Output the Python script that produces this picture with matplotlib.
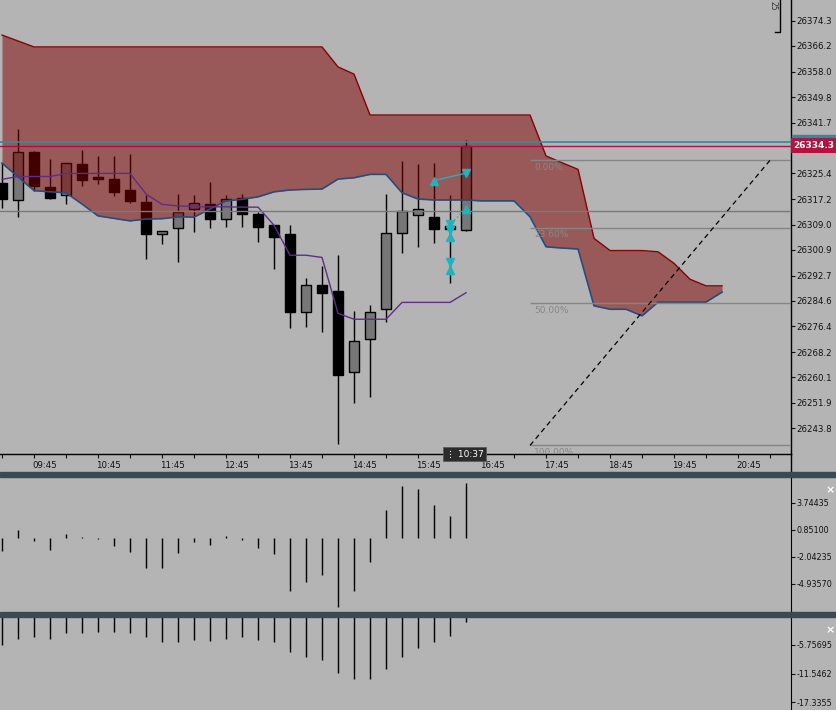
import matplotlib
matplotlib.use('Agg')
import matplotlib.pyplot as plt
from matplotlib.patches import Rectangle
from matplotlib.lines import Line2D
from matplotlib.transforms import blended_transform_factory, ScaledTranslation
import numpy as np

# 15 minute candles, 09:15 .. 16:30
opens = [26322.2, 26316.8, 26332.3, 26321.1, 26318.4, 26328.4, 26324.3, 26323.6, 26320.1, 26316.3,
         26305.9, 26307.8, 26313.9, 26315.6, 26310.9, 26317.4, 26312.4, 26308.8, 26306.0, 26281.1,
         26289.6, 26287.8, 26261.9, 26272.5, 26281.9, 26306.4, 26312.2, 26311.5, 26308.6, 26307.2]
highs = [26328.7, 26339.5, 26332.6, 26329.9, 26328.7, 26332.9, 26331.0, 26331.0, 26331.6, 26318.4,
         26307.0, 26318.8, 26318.4, 26322.7, 26318.4, 26318.8, 26313.1, 26308.9, 26308.8, 26291.9,
         26295.8, 26299.2, 26281.4, 26283.2, 26318.8, 26329.3, 26328.4, 26328.8, 26318.4, 26336.1]
lows = [26314.3, 26311.4, 26319.8, 26317.1, 26315.5, 26321.3, 26321.9, 26318.3, 26316.0, 26297.9,
        26302.7, 26297.1, 26306.6, 26307.8, 26308.2, 26308.2, 26303.4, 26294.7, 26275.8, 26276.1,
        26274.5, 26238.8, 26251.8, 26253.7, 26277.9, 26299.8, 26301.9, 26303.2, 26290.2, 26306.9]
closes = [26317.1, 26332.2, 26321.5, 26317.6, 26328.6, 26323.4, 26323.7, 26319.6, 26316.6, 26306.1,
          26306.9, 26313.1, 26315.9, 26310.9, 26317.2, 26312.5, 26308.2, 26305.1, 26281.1, 26289.6,
          26287.2, 26261.0, 26271.6, 26280.9, 26306.2, 26313.4, 26314.0, 26307.7, 26307.7, 26334.3]

# ichimoku cloud, runs 16 bars past the last candle
span_a = [26369.7, 26367.8, 26365.9, 26365.9, 26365.9, 26365.9, 26365.9, 26365.9, 26365.9, 26365.9,
          26365.9, 26365.9, 26365.9, 26365.9, 26365.9, 26365.9, 26365.9, 26365.9, 26365.9, 26365.9,
          26365.9, 26359.5, 26357.2, 26344.1, 26344.1, 26344.1, 26344.1, 26344.1, 26344.1, 26344.1,
          26344.1, 26344.1, 26344.1, 26344.1, 26331.0, 26328.8, 26326.7, 26304.6, 26300.7, 26300.7,
          26300.7, 26300.3, 26296.6, 26291.5, 26289.4, 26289.4]
span_b = [26328.7, 26324.3, 26319.9, 26319.5, 26319.2, 26315.6, 26311.8, 26311.0, 26310.2, 26310.8,
          26310.9, 26311.5, 26311.4, 26314.0, 26316.6, 26317.1, 26317.9, 26319.5, 26320.1, 26320.3,
          26320.4, 26323.6, 26324.0, 26325.1, 26325.1, 26319.2, 26317.2, 26316.9, 26316.9, 26316.9,
          26316.6, 26316.6, 26316.6, 26311.5, 26301.9, 26301.5, 26301.2, 26283.0, 26281.9, 26281.9,
          26279.8, 26284.2, 26284.2, 26284.2, 26284.2, 26287.4]
kijun = [26323.5, 26324.4, 26324.4, 26324.4, 26325.4, 26325.4, 26325.4, 26325.4, 26325.4, 26318.8,
         26315.5, 26315.0, 26314.8, 26314.7, 26314.7, 26314.6, 26314.6, 26308.8, 26299.2, 26299.2,
         26298.5, 26280.6, 26278.7, 26278.7, 26278.7, 26284.1, 26284.1, 26284.1, 26284.1, 26287.2]

# sub windows
osc1 = [-1.44, 0.86, -0.36, -1.29, 0.43, 0.05, -0.15, -0.90, -1.50, -3.22,
        -3.22, -1.61, -0.47, -0.75, 0.25, -0.26, -1.11, -1.71, -5.68, -4.71,
        -3.96, -7.39, -5.68, -2.57, 3.00, 5.61, 5.25, 3.54, 2.36, 5.89]
osc2 = [-5.82, -4.49, -4.20, -4.49, -3.39, -3.27, -3.07, -3.07, -3.27, -4.20,
        -5.09, -5.09, -4.75, -4.89, -4.49, -4.20, -4.69, -5.09, -7.11, -8.12,
        -8.85, -11.48, -12.69, -12.69, -10.55, -8.12, -6.30, -5.09, -4.00, -1.17]

price_ticks = [26374.3, 26366.2, 26358.0, 26349.8, 26341.7, 26325.4, 26317.2, 26309.0,
               26300.9, 26292.7, 26284.6, 26276.4, 26268.2, 26260.1, 26251.9, 26243.8]
osc1_ticks = [3.74435, 0.85100, -2.04235, -4.93570]
osc2_ticks = [-5.75695, -11.5462, -17.3355]
hour_pos = [2, 6, 10, 14, 18, 22, 26, 30, 34, 38, 42, 46]
hour_labels = ['09:45', '10:45', '11:45', '12:45', '13:45', '14:45',
               '15:45', '16:45', '17:45', '18:45', '19:45', '20:45']

bid, ask = 26334.3, 26335.4
hline_price = 26313.4
fib_hi, fib_lo = 26329.6, 26238.3
fib_x0, fib_x1 = 33, 48
fib_levels = [0.0, 0.236, 0.5, 1.0]
fib_names = ['0.00%', '23.60%', '50.00%', '100.00%']

# order arrows: (x0, p0, x1, p1, dotted)
trades = [(27, 26323.1, 29, 26325.5, False), (29, 26314.0, 28, 26309.1, True)]
stops_x = [28, 28]
stops_down = [26307.3, 26297.0]
stops_up = [26305.0, 26294.5]

BG = '#b4b4b4'
CYAN = '#1fb3be'
W, H = 836, 710
LBL = 6.2
plt.rcParams['font.family'] = ['DejaVu Sans']

fig = plt.figure(figsize=(W / 100, H / 100), dpi=100, facecolor=BG)


def rect(top, bottom, right=791):
    return [0, 1 - bottom / H, right / W, (bottom - top) / H]


ax = fig.add_axes(rect(0, 454))
ax2 = fig.add_axes(rect(477, 612))
ax3 = fig.add_axes(rect(617, 710))
xlim = (-0.125, 49.31)

# candles
x = np.arange(len(opens))
o, h, l, c = map(np.array, (opens, highs, lows, closes))
up = c >= o
ax.vlines(x, l, h, color='black', lw=1, zorder=2)
body = np.where(np.abs(c - o) < 0.6, 0.6 * np.sign(c - o + 1e-9), c - o)
ax.bar(x, body, bottom=o, width=0.62, color=np.where(up, '#777777', 'black'),
       edgecolor='black', lw=1, zorder=2.5)

# cloud over the candles
xc = np.arange(len(span_a))
ax.fill_between(xc, span_a, span_b, color='#800000', alpha=0.5, lw=0, zorder=3)
ax.plot(xc, span_a, color='#8b0000', lw=1, zorder=4)
ax.plot(xc, span_b, color='#1f4f80', lw=1.2, zorder=4)
ax.plot(x, kijun, color='#5e2d8c', lw=1, zorder=4)

ax.axhline(hline_price, color='#7a7a7a', lw=1, zorder=4)
ax.axhline(ask, color='#2a8ea0', lw=1.2, zorder=5)
ax.axhline(bid, color='#b01040', lw=1, zorder=5)

# fibo
for lvl, name in zip(fib_levels, fib_names):
    p = fib_hi - lvl * (fib_hi - fib_lo)
    ax.hlines(p, fib_x0, xlim[1], color='#858585', lw=1, zorder=4)
    t = ax.annotate(name, (fib_x0, p), xytext=(3, -2), textcoords='offset points',
                    va='top', ha='left', fontsize=6.5, color='#878787', zorder=5)
    t.set_clip_box(ax.bbox)
ax.plot([fib_x0, fib_x1], [fib_lo, fib_hi], ls=(0, (4, 3)), color='black', lw=0.9, zorder=5)

# trade arrows
for x0, p0, x1, p1, dotted in trades:
    ax.plot([x0, x1], [p0, p1], color=CYAN, lw=1, ls=':' if dotted else '-', zorder=6)
    ax.plot(x0, p0, marker='^', ms=5.5, color=CYAN, zorder=7)
    ax.plot(x1, p1, marker='v', ms=5.5, color=CYAN, zorder=7)
ax.plot(stops_x, stops_down, 'v', ms=5.5, color=CYAN, zorder=7)
ax.plot(stops_x, stops_up, '^', ms=5.5, color=CYAN, zorder=7)

ax.set_xlim(*xlim)
ax.set_ylim(26235.55, 26380.93)
ax.set_facecolor(BG)
for s in ('left', 'top'):
    ax.spines[s].set_visible(False)
ax.spines['right'].set_linewidth(1)
ax.spines['bottom'].set_linewidth(1)
ax.yaxis.tick_right()
ax.set_yticks(price_ticks)
ax.set_yticklabels([f'{v:.1f}' for v in price_ticks])
ax.set_xticks(hour_pos)
ax.set_xticklabels(hour_labels)
ax.set_xticks(np.arange(0, 50, 2), minor=True)
ax.tick_params(axis='y', length=3, width=0.8, pad=1, labelsize=LBL, colors='#111111')
ax.tick_params(axis='x', which='both', length=3, width=0.8, pad=2, labelsize=LBL, colors='#111111')
shift = ScaledTranslation(-2 / 100, 0, fig.dpi_scale_trans)
for t in ax.get_xticklabels():
    t.set_ha('left')
    t.set_transform(t.get_transform() + shift)

# price labels on the scale (ask label mostly hidden behind the bid label)
tr = blended_transform_factory(ax.transAxes, ax.transData)
ax.add_patch(Rectangle((1.0015, ask - 2.4), 0.056, 4.8, transform=tr, color='#2a8ea0',
                       clip_on=False, zorder=19))
ax.text(1.003, bid, '26334.3', transform=tr, color='white', fontsize=6.5, fontweight='bold',
        va='center', ha='left', clip_on=False, zorder=20,
        bbox=dict(boxstyle='square,pad=0.3', fc='#b5123e', ec='none'))

# countdown box
trx = blended_transform_factory(ax.transData, ax.transAxes)
ax.text(28.9, 0, '⋮ 10:37', transform=trx, color='white', fontsize=6.5, ha='center',
        va='center', clip_on=False, zorder=20,
        bbox=dict(boxstyle='square,pad=0.3', fc='#2b2b2b', ec='#5a5a5a', lw=0.6))

# chart shift bracket
ax.plot([775 / 791, 780 / 791, 780 / 791], [1 - 32 / 454, 1 - 32 / 454, 1],
        transform=ax.transAxes, color='black', lw=1, clip_on=False)
ax.text(773 / 791, 1 - 6 / 454, '25', rotation=-90, transform=ax.transAxes, fontsize=5.5,
        color='#333333', ha='center', va='center')

# sub windows
for a, vals, ticks, lim, fmt in ((ax2, osc1, osc1_ticks, (-7.94, 6.526), '{:.5f}'),
                                 (ax3, osc2, osc2_ticks, (-18.89, -0.1), '{:.6g}')):
    a.vlines(x, 0, vals, color='black', lw=1)
    a.set_facecolor(BG)
    a.set_xlim(*xlim)
    a.set_ylim(*lim)
    for s in ('left', 'top', 'bottom'):
        a.spines[s].set_visible(False)
    a.yaxis.tick_right()
    a.set_xticks([])
    a.set_yticks(ticks)
    a.set_yticklabels([fmt.format(v) for v in ticks])
    a.tick_params(axis='y', length=3, width=0.8, pad=1, labelsize=LBL - 0.4, colors='#111111')

fig.text(830 / W, 1 - 490 / H, '×', color='white', fontsize=8, fontweight='bold', ha='center', va='center')
fig.text(830 / W, 1 - 630 / H, '×', color='white', fontsize=8, fontweight='bold', ha='center', va='center')

fig.add_artist(Line2D([791 / W, 791 / W], [1 - 472 / H, 1 - 454 / H], color='black', lw=1))
for top, bot in ((472, 477), (612, 617)):
    fig.add_artist(Rectangle((0, 1 - bot / H), 1, (bot - top) / H, transform=fig.transFigure,
                             color='#394a53', zorder=10))

fig.savefig('out.png', dpi=100, facecolor=BG)
